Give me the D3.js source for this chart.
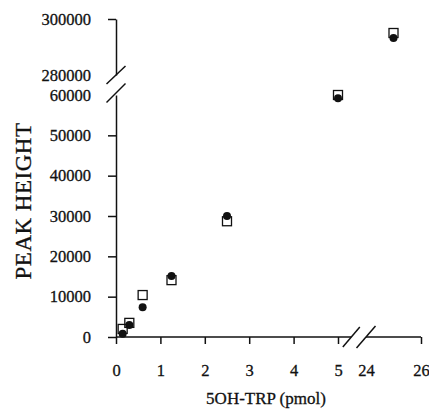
<!DOCTYPE html>
<html>
<head>
<meta charset="utf-8">
<script src="https://cdn.jsdelivr.net/npm/d3@7"></script>
<style>
  body { margin: 0; background: #fff; }
  svg text { font-family: "Liberation Serif", "Times New Roman", serif; fill: #111; stroke: #111; stroke-width: 0.3px; }
  .axis path, .axis line { stroke: #111; stroke-width: 1.5; }
</style>
</head>
<body>
<div class="chart"></div>
<script>
// data
const amounts = [0.15, 0.3, 0.6, 1.25, 2.5, 5, 25];          // 5OH-TRP (pmol)
const openSquare = [2000, 3500, 10400, 14100, 28700, 60000, 295000];
const filledCircle = [800, 3000, 7400, 15100, 30000, 59200, 293200];
const xTicksLow = [0, 1, 2, 3, 4, 5];
const xTicksHigh = [24, 26];
const yTicksLow = [0, 10000, 20000, 30000, 40000, 50000, 60000];
const yTicksHigh = [280000, 300000];

const width = 429;
const height = 410;

const svg = d3.select('.chart')
  .append('svg')
  .attr('width', width)
  .attr('height', height);

// broken scales
const xLow = d3.scaleLinear().domain([0, 5]).range([116, 338]);
const xHigh = d3.scaleLinear().domain([24, 26]).range([366, 421]);
const yLow = d3.scaleLinear().domain([0, 60000]).range([337, 95]);
const yHigh = d3.scaleLinear().domain([280000, 300000]).range([75, 19]);

const xPos = (v) => (v > 10 ? xHigh(v) : xLow(v));
const yPos = (v) => (v > 100000 ? yHigh(v) : yLow(v));

const fmt = d3.format('d');

// y axis, two pieces
function drawY(scale, ticks, hidden) {
  const g = svg.append('g')
    .attr('class', 'axis')
    .attr('transform', `translate(${xLow(0)},0)`)
    .call(d3.axisLeft(scale).tickValues(ticks).tickSize(8).tickSizeOuter(0).tickFormat(fmt));
  g.selectAll('.tick line').filter((d) => hidden.includes(d)).remove();
  g.selectAll('.tick text')
    .attr('x', -25)
    .attr('dy', '0.32em')
    .style('font-size', '16.5px');
}
drawY(yLow, yTicksLow, [60000]);
drawY(yHigh, yTicksHigh, [280000]);

// x axis, two pieces
function drawX(scale, ticks, hidden, extent) {
  const g = svg.append('g')
    .attr('class', 'axis')
    .attr('transform', `translate(0,${yLow(0)})`)
    .call(d3.axisBottom(scale).tickValues(ticks).tickSize(7).tickSizeOuter(0).tickFormat(fmt));
  g.select('.domain').attr('d', `M${extent[0]},0H${extent[1]}`);
  g.selectAll('.tick line').filter((d) => hidden.includes(d)).remove();
  g.selectAll('.tick text')
    .attr('y', 39)
    .attr('dy', 0)
    .style('font-size', '16.5px');
}
drawX(xLow, xTicksLow, [], [xLow(0), xLow(5.3)]);
drawX(xHigh, xTicksHigh, [24], [xHigh(24), xHigh(26)]);

// break marks
const slash = (cx, cy, dx, dy) => {
  svg.append('line')
    .attr('x1', cx - dx).attr('y1', cy + dy)
    .attr('x2', cx + dx).attr('y2', cy - dy)
    .attr('stroke', '#111')
    .attr('stroke-width', 1.5);
};
slash(xLow(0), yHigh(280000), 9.5, 9);
slash(xLow(0), yLow(60000) - 2, 9.5, 9.5);
slash(xLow(5.3), yLow(0), 8.5, 10);
slash(xHigh(24), yLow(0), 9.5, 11);

// points: squares first, circles on top
svg.append('g')
  .selectAll('rect')
  .data(amounts)
  .join('rect')
  .attr('x', (d) => xPos(d) - 4.5)
  .attr('y', (d, k) => yPos(openSquare[k]) - 4.5)
  .attr('width', 9)
  .attr('height', 9)
  .attr('fill', 'none')
  .attr('stroke', '#111')
  .attr('stroke-width', 1.3);

svg.append('g')
  .selectAll('circle')
  .data(amounts)
  .join('circle')
  .attr('cx', (d) => xPos(d))
  .attr('cy', (d, k) => yPos(filledCircle[k]))
  .attr('r', 4)
  .attr('fill', '#111');

// axis titles
svg.append('text')
  .attr('transform', 'translate(31,201) rotate(-90)')
  .attr('text-anchor', 'middle')
  .style('font-size', '23px')
  .style('letter-spacing', '0.5px')
  .text('PEAK HEIGHT');

svg.append('text')
  .attr('x', 266)
  .attr('y', 404)
  .attr('text-anchor', 'middle')
  .style('font-size', '17px')
  .text('5OH-TRP (pmol)');
</script>
</body>
</html>
